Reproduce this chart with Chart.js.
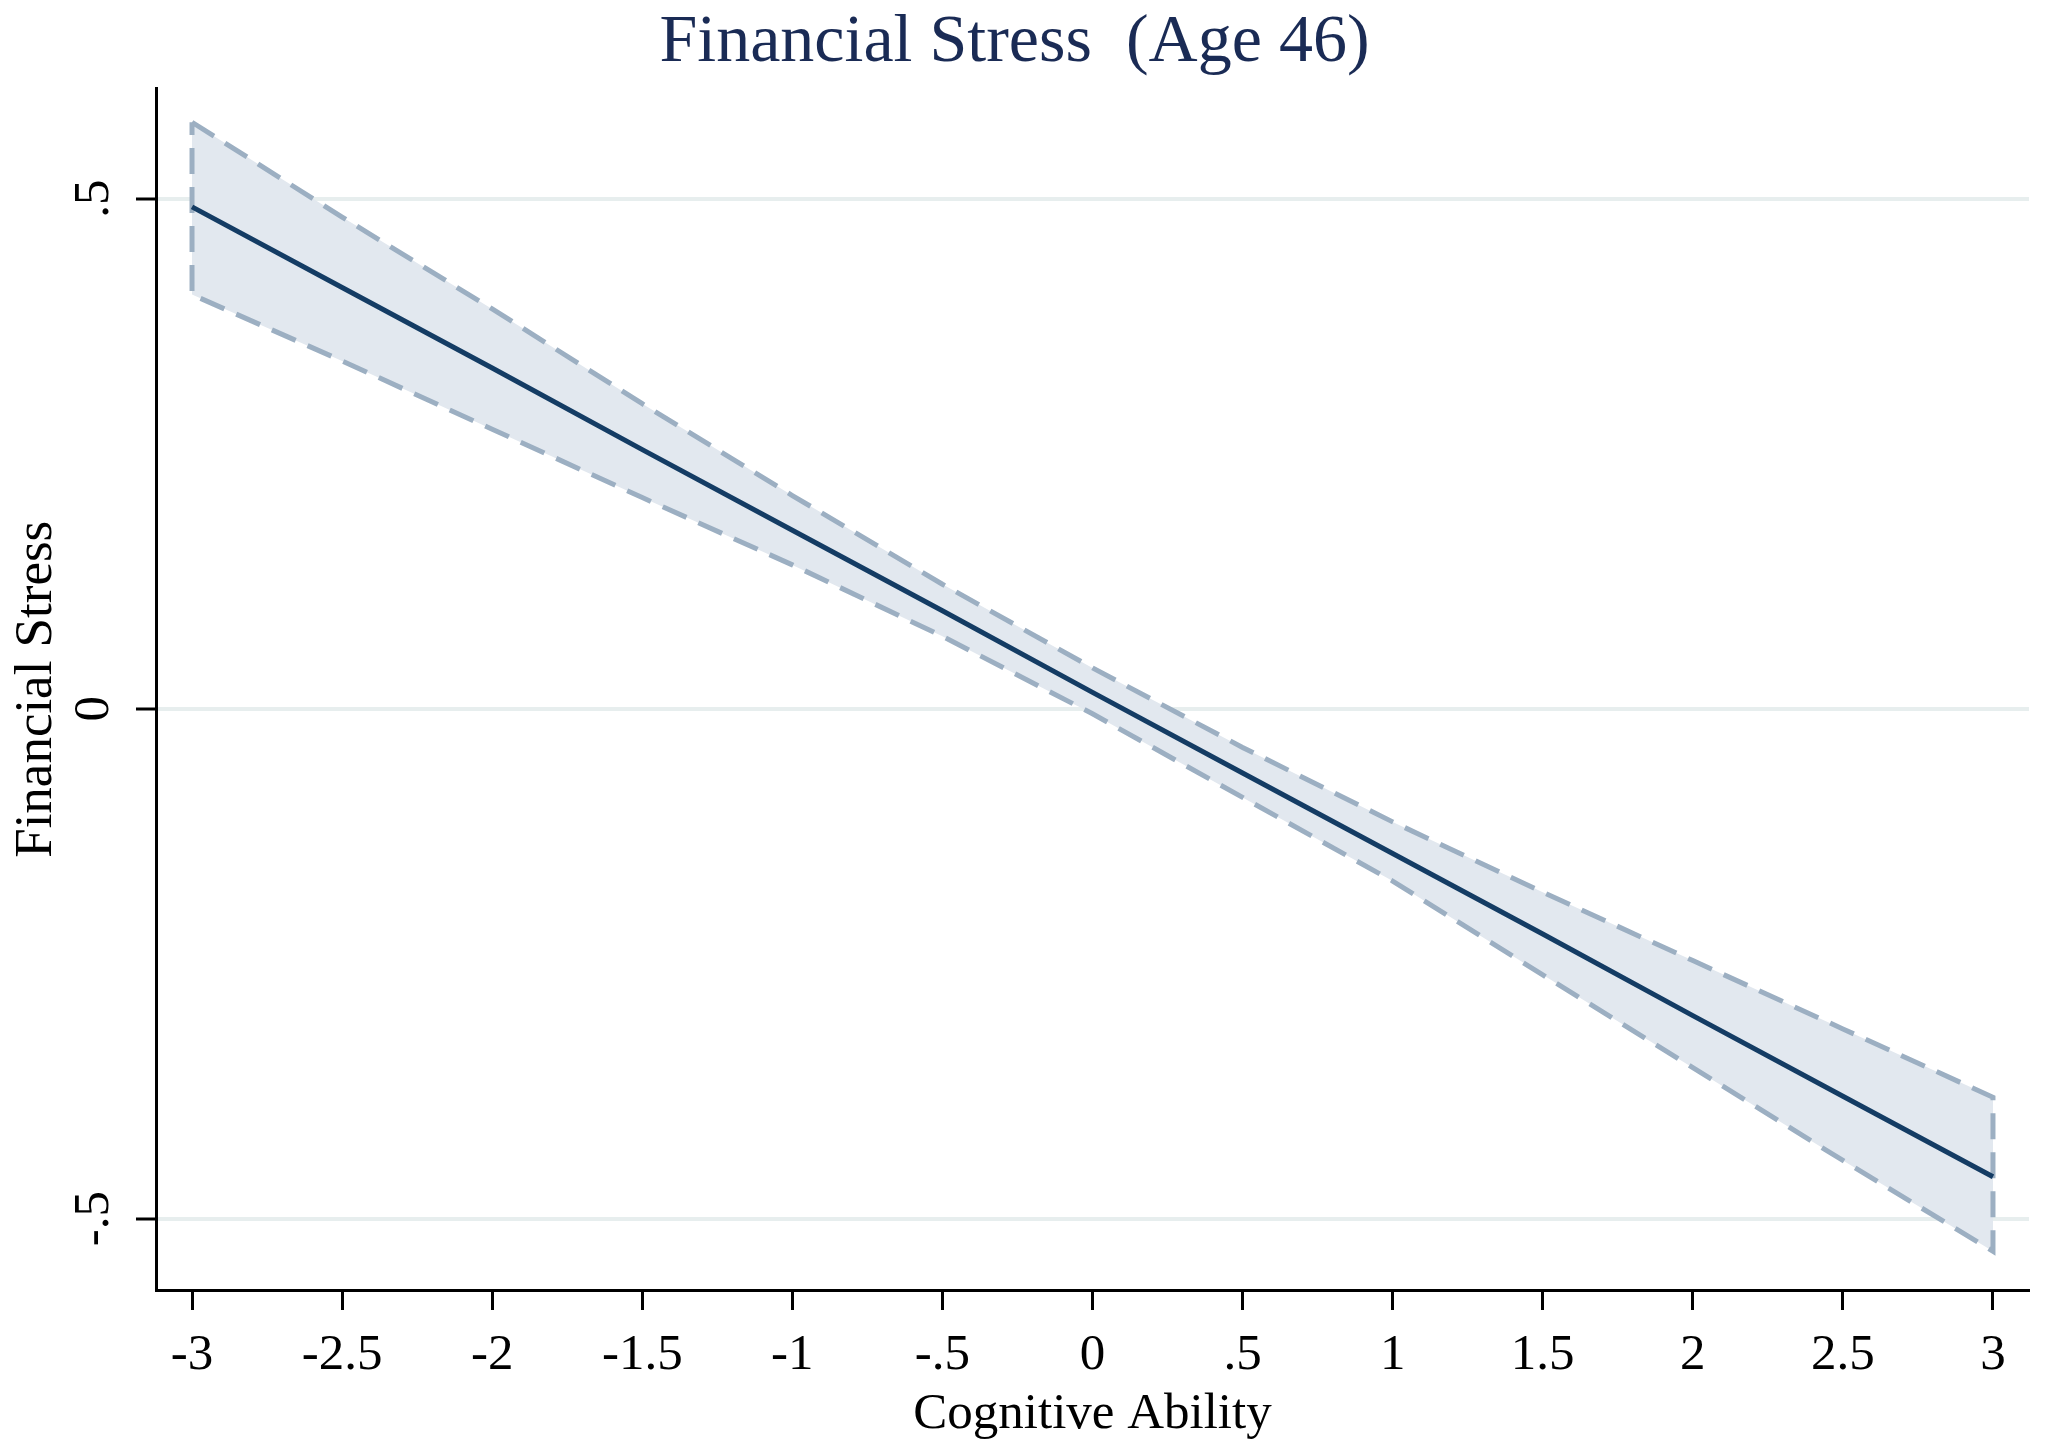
<!DOCTYPE html>
<html>
<head>
<meta charset="utf-8">
<title>Financial Stress (Age 46)</title>
<script src="https://cdn.jsdelivr.net/npm/chart.js@4.4.1/dist/chart.umd.min.js"></script>
<style>
  html, body { margin: 0; padding: 0; background: #fff; }
  #wrap { width: 2050px; height: 1452px; position: relative; }
</style>
</head>
<body>
<div id="wrap"><canvas id="chart"></canvas></div>
<script>
// --- values ---
const cognitive = [-3, -2.5, -2, -1.5, -1, -0.5, 0, 0.5, 1, 1.5, 2, 2.5, 3];
const predicted = [0.492, 0.413, 0.334, 0.254, 0.175, 0.096, 0.016, -0.063, -0.142, -0.221, -0.301, -0.380, -0.459];
const upperCI   = [0.575, 0.482, 0.392, 0.299, 0.209, 0.122, 0.040, -0.038, -0.111, -0.180, -0.247, -0.314, -0.381];
const lowerCI   = [0.406, 0.341, 0.274, 0.207, 0.141, 0.071, -0.005, -0.087, -0.169, -0.261, -0.352, -0.443, -0.532];
const xTicks = [-3, -2.5, -2, -1.5, -1, -0.5, 0, 0.5, 1, 1.5, 2, 2.5, 3];
const yTicks = [-0.5, 0, 0.5];

// stata style labels: ".5", "-.5"
const stataLabel = v => String(v).replace(/^(-?)0\./, '$1.');

// band outline: upper edge left->right, then lower edge right->left, closed
const band = cognitive.map((x, i) => ({ x: x, y: upperCI[i] }))
  .concat(cognitive.map((x, i) => ({ x: x, y: lowerCI[i] })).reverse());
band.push({ x: cognitive[0], y: upperCI[0] });

const meanLine = cognitive.map((x, i) => ({ x: x, y: predicted[i] }));

const serif = "'Liberation Serif', 'Times New Roman', serif";

new Chart(document.getElementById('chart'), {
  type: 'line',
  data: {
    datasets: [{
      label: '95% CI',
      data: band,
      order: 2,
      borderColor: '#9cafc2',
      borderWidth: 5,
      borderDash: [26, 13],
      backgroundColor: '#e2e8ef',
      fill: 'shape',
      pointRadius: 0,
      tension: 0
    }, {
      label: 'Financial Stress',
      data: meanLine,
      order: 1,
      borderColor: '#143c64',
      borderWidth: 5,
      fill: false,
      pointRadius: 0,
      tension: 0
    }]
  },
  options: {
    responsive: true,
    maintainAspectRatio: false,
    animation: false,
    layout: { padding: { left: 0, right: 21, top: 0, bottom: 0 } },
    plugins: {
      legend: { display: false },
      tooltip: { enabled: false },
      title: {
        display: true,
        text: 'Financial Stress  (Age 46)',
        color: '#1a2b55',
        font: { family: serif, size: 68, weight: 'normal' },
        padding: { top: 2, bottom: 5 }
      }
    },
    scales: {
      x: {
        type: 'linear',
        min: -3.12,
        max: 3.12,
        afterBuildTicks: s => { s.ticks = xTicks.map(v => ({ value: v })); },
        afterFit: s => { s.height = 162; },
        ticks: {
          color: '#000',
          padding: 15,
          maxRotation: 0,
          font: { family: serif, size: 51 },
          callback: v => stataLabel(v)
        },
        grid: { drawOnChartArea: false, tickLength: 20, tickColor: '#000', tickWidth: 3 },
        border: { color: '#000', width: 3 },
        title: {
          display: true,
          text: 'Cognitive Ability',
          color: '#000',
          font: { family: serif, size: 51 },
          padding: { top: 0, bottom: 7 }
        }
      },
      y: {
        type: 'linear',
        min: -0.57,
        max: 0.608,
        afterBuildTicks: s => { s.ticks = yTicks.map(v => ({ value: v })); },
        afterFit: s => { s.width = 156; },
        ticks: {
          color: '#000',
          padding: 14,
          minRotation: 90,
          maxRotation: 90,
          crossAlign: 'center',
          font: { family: serif, size: 51 },
          callback: v => stataLabel(v)
        },
        grid: { color: '#e7eeee', lineWidth: 4, tickLength: 20, tickColor: '#000', tickWidth: 3 },
        border: { color: '#000', width: 3 },
        title: {
          display: true,
          text: 'Financial Stress',
          color: '#000',
          font: { family: serif, size: 53 },
          padding: { top: 5, bottom: 0 }
        }
      }
    }
  }
});
</script>
</body>
</html>
